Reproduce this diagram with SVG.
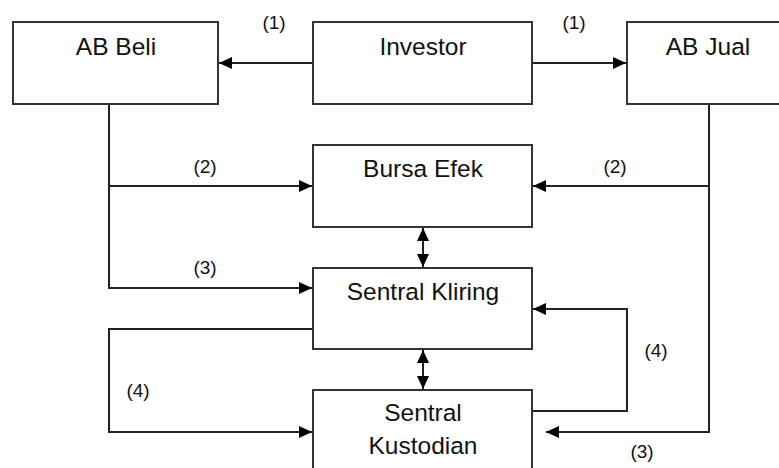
<svg xmlns="http://www.w3.org/2000/svg" width="779" height="468" viewBox="0 0 779 468">
<defs>
<style>
.box{fill:#fff;stroke:#333;stroke-width:2}
.t{font-family:"Liberation Sans",Arial,sans-serif;font-size:24.5px;fill:#111;text-anchor:middle}
.l{font-family:"Liberation Sans",Arial,sans-serif;font-size:19px;fill:#111;text-anchor:middle}
.c{fill:none;stroke:#222;stroke-width:2}
</style>
<marker id="ah" markerUnits="userSpaceOnUse" markerWidth="13" markerHeight="12" refX="13" refY="6" orient="auto-start-reverse">
<path d="M0,0 L13,6 L0,12 z" fill="#000"/>
</marker>
</defs>
<rect width="779" height="468" fill="#fff"/>
<g id="connectors">
<line class="c" x1="313" y1="63" x2="219" y2="63" marker-end="url(#ah)"/>
<line class="c" x1="532" y1="63" x2="626" y2="63" marker-end="url(#ah)"/>
<polyline class="c" points="109,104 109,288 312,288" marker-end="url(#ah)"/>
<line class="c" x1="109" y1="186" x2="312" y2="186" marker-end="url(#ah)"/>
<polyline class="c" points="709,104 709,432 546,432" marker-end="url(#ah)"/>
<line class="c" x1="709" y1="186" x2="533" y2="186" marker-end="url(#ah)"/>
<line class="c" x1="423" y1="228" x2="423" y2="267" marker-start="url(#ah)" marker-end="url(#ah)"/>
<line class="c" x1="423" y1="350" x2="423" y2="389" marker-start="url(#ah)" marker-end="url(#ah)"/>
<polyline class="c" points="313,329 109,329 109,432 312,432" marker-end="url(#ah)"/>
<polyline class="c" points="532,411 627,411 627,309 533,309" marker-end="url(#ah)"/>
<text class="l" x="274" y="29">(1)</text>
<text class="l" x="574" y="29">(1)</text>
<text class="l" x="205" y="173">(2)</text>
<text class="l" x="615" y="173">(2)</text>
<text class="l" x="205" y="274">(3)</text>
<text class="l" x="138" y="397">(4)</text>
<text class="l" x="656" y="357">(4)</text>
<text class="l" x="642" y="458">(3)</text>
</g>
<g id="ab-beli"><rect class="box" x="13" y="22" width="205" height="82"/><text class="t" x="116" y="55">AB Beli</text></g>
<g id="investor"><rect class="box" x="313" y="22" width="219" height="82"/><text class="t" x="423" y="55">Investor</text></g>
<g id="ab-jual"><rect class="box" x="627" y="22" width="164" height="82"/><text class="t" x="708" y="55">AB Jual</text></g>
<g id="bursa-efek"><rect class="box" x="313" y="145" width="219" height="82"/><text class="t" x="423" y="177">Bursa Efek</text></g>
<g id="sentral-kliring"><rect class="box" x="313" y="268" width="219" height="81"/><text class="t" x="423" y="300">Sentral Kliring</text></g>
<g id="sentral-kustodian"><rect class="box" x="313" y="390" width="219" height="90"/><text class="t" x="423" y="421">Sentral</text><text class="t" x="423" y="454">Kustodian</text></g>
</svg>
